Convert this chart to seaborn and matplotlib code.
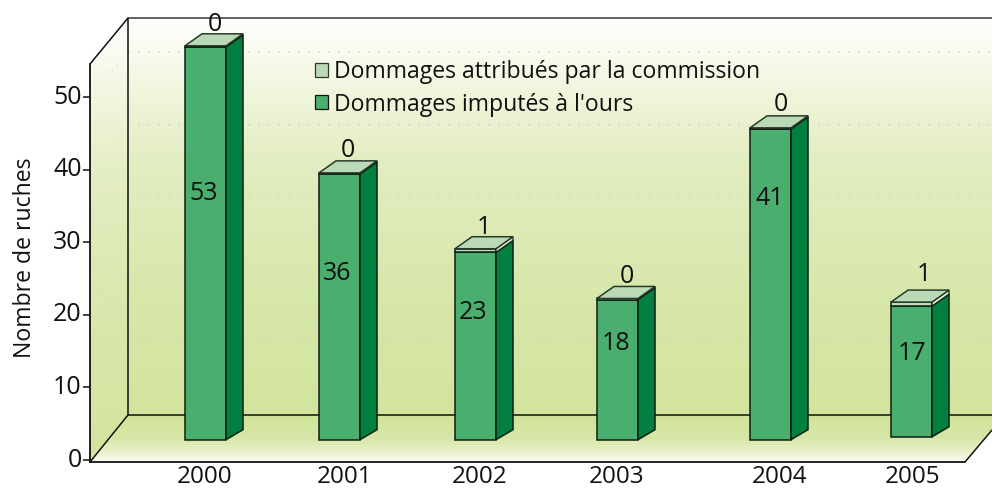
import numpy as np
import pandas as pd
import matplotlib
matplotlib.use("Agg")
import matplotlib.pyplot as plt
from matplotlib.colors import LinearSegmentedColormap
from matplotlib.patches import Patch, Polygon
import seaborn as sns

# --- data -----------------------------------------------------------------
years = ["2000", "2001", "2002", "2003", "2004", "2005"]
imputed_labels = [53, 36, 23, 18, 41, 17]
commission_labels = [0, 0, 1, 0, 0, 1]
# heights and floors of the bars as read on the y axis of the picture
imputed_drawn = [54.1, 36.6, 25.8, 19.3, 42.8, 18.0]
commission_drawn = [0.15, 0.15, 0.5, 0.15, 0.15, 0.55]
bar_floor = [2.8, 2.8, 2.8, 2.8, 2.8, 3.2]
y_ticks = [0, 10, 20, 30, 40, 50]
legend_labels = ["Dommages attribués par la commission", "Dommages imputés à l'ours"]
y_title = "Nombre de ruches"

# --- layout (pixels of the 992x490 picture) -------------------------------
bar_centres = [205.5, 339.5, 475.5, 617.5, 770.5, 911.5]
year_label_x = [205, 345, 480, 617, 780, 912]
inner_label_xy = [(204, 193.5), (337, 273.5), (473, 312.5), (616, 343.5), (770, 198.5), (912, 353.5)]
top_label_xy = [(215, 24), (348, 150), (484, 227), (627, 276), (781, 104), (924, 274)]
PX = 7.26          # pixels per y unit
Y0 = 460           # pixel row of y = 0
W, H = 992, 490
FS = 18
FS_TEXT = 16.6
GREEN, DARK, LIGHT, PALE = "#4aae6e", "#007f3e", "#bad9b7", "#e6f1dc"
EDGE = "#0b1f14"


def v(p):
    """pixel row -> y value"""
    return (Y0 - p) / PX


sns.set_style("white")
plt.rcParams["font.family"] = ["Open Sans", "DejaVu Sans"]

fig = plt.figure(figsize=(W / 100, H / 100), dpi=100, facecolor="white")
ax = fig.add_axes([90 / W, (H - 462) / H, (W - 90) / W, 462 / H])
ax.set_facecolor("none")

df = pd.DataFrame({"x": bar_centres, "imputed": imputed_drawn,
                   "commission": commission_drawn, "floor": bar_floor})
df["top"] = df["floor"] + df["imputed"]

bw = 41 / 134
common = dict(x="x", native_scale=True, width=bw, saturation=1, edgecolor=EDGE,
              linewidth=1.1, errorbar=None, ax=ax, zorder=5)
sns.barplot(data=df, y="imputed", color=GREEN, **common)
imputed_bars = list(ax.patches)
for p, b in zip(imputed_bars, df["floor"]):
    p.set_y(b)
sns.barplot(data=df, y="commission", color=LIGHT, **common)
slab_bars = list(ax.patches)[len(imputed_bars):]
for p, b in zip(slab_bars, df["top"]):
    p.set_y(b)

ax.set_xlim(90, W)
ax.set_ylim(v(462), v(0))

# --- 3D sides of the bars, built from the drawn bars ----------------------
dx, dy_top, dy_low = 17, 12 / PX, 10 / PX
for bar, slab in zip(imputed_bars, slab_bars):
    x1 = bar.get_x() + bar.get_width()
    x0 = bar.get_x()
    low, mid = bar.get_y(), bar.get_y() + bar.get_height()
    top = slab.get_y() + slab.get_height()
    ax.add_patch(Polygon([(x1, low), (x1 + dx, low + dy_low), (x1 + dx, mid + dy_top), (x1, mid)],
                         fc=DARK, ec=EDGE, lw=1.1, zorder=5))
    ax.add_patch(Polygon([(x1, mid), (x1 + dx, mid + dy_top), (x1 + dx, top + dy_top), (x1, top)],
                         fc=PALE, ec=EDGE, lw=0.9, zorder=5))
    ax.add_patch(Polygon([(x0, top), (x1, top), (x1 + dx, top + dy_top), (x0 + dx, top + dy_top)],
                         fc=LIGHT, ec="#2a3a2a", lw=1.1, zorder=5))

# --- walls and floor ------------------------------------------------------
wall_cmap = LinearSegmentedColormap.from_list(
    "wall", [(0, "#ffffff"), (0.2, "#eff5da"), (0.36, "#e3edc2"), (0.7, "#d8e7aa"), (1, "#d3e49e")])
floor_cmap = LinearSegmentedColormap.from_list(
    "floor", [(0, "#d0e399"), (0.5, "#d8e7a8"), (0.75, "#e6efc6"), (1, "#fcfdf5")])
grad = np.linspace(0, 1, 256).reshape(-1, 1)

back = Polygon([(128, v(18)), (W, v(18)), (W, v(415)), (128, v(415))], transform=ax.transData)
side = Polygon([(90, v(64)), (128, v(18)), (128, v(415)), (90, v(462))], transform=ax.transData)
floor = Polygon([(128, v(415)), (W, v(415)), (W, v(430)), (965, v(462)), (90, v(462))],
                transform=ax.transData)
for clip, cm, top_row, low_row in ((back, wall_cmap, 18, 415), (side, wall_cmap, 18, 462),
                                   (floor, floor_cmap, 415, 462)):
    im = ax.imshow(grad, cmap=cm, aspect="auto", zorder=0, interpolation="bilinear",
                   extent=(90, W, v(low_row), v(top_row)))
    im.set_clip_path(clip)
ax.set_xlim(90, W)
ax.set_ylim(v(462), v(0))

# dotted grid on the walls
wall_shift = v(415)
for t in y_ticks[1:]:
    ax.plot([128, W], [t + wall_shift] * 2, color="#d4d8c4", lw=1.2, ls=(0, (1, 5)), zorder=1)
    ax.plot([90, 128], [t, t + wall_shift], color="#e4e8d8", lw=1.2, ls=(0, (1, 4)), zorder=1)

# wall edges
line = dict(color="#111111", lw=1.1, zorder=2, solid_capstyle="butt")
ax.plot([128, W], [v(18), v(18)], color="#555555", lw=1.3, zorder=2)
ax.plot([128, 128], [v(18), v(415)], **line)
ax.plot([90, 128], [v(64), v(18)], **line)
ax.plot([90, 128], [v(462), v(415)], **line)
ax.plot([128, W], [v(415), v(415)], **line)
ax.plot([965, W], [v(462), v(430)], **line)

# --- axes -----------------------------------------------------------------
for s in ("top", "right"):
    ax.spines[s].set_visible(False)
ax.spines["left"].set_bounds(v(462), v(64))
ax.spines["bottom"].set_bounds(90, 965)
for s in ("left", "bottom"):
    ax.spines[s].set_color("#111111")
    ax.spines[s].set_linewidth(1.3)
ax.set_yticks(y_ticks)
ax.set_yticklabels([str(t) for t in y_ticks], fontsize=FS, color="#111111", va="center")
ax.tick_params(axis="y", length=5, width=1.2, color="#222222", pad=1, left=True)
ax.set_xticks(year_label_x)
ax.set_xticklabels(years, fontsize=17.5, color="#111111")
ax.tick_params(axis="x", length=0, pad=2)
ax.set_xlabel("")
ax.set_ylabel(y_title, fontsize=FS_TEXT, color="#111111")
ax.yaxis.set_label_coords((37 - 90) / (W - 90), (462 - 258) / 462)

# --- value labels ---------------------------------------------------------
for val, (x, p) in zip(imputed_labels, inner_label_xy):
    ax.text(x, v(p), str(val), ha="center", va="center", fontsize=FS, color="#111111", zorder=7)
for val, (x, p) in zip(commission_labels, top_label_xy):
    ax.text(x, v(p), str(val), ha="center", va="center", fontsize=FS, color="#111111", zorder=7)

# --- legend ---------------------------------------------------------------
handles = [Patch(fc=LIGHT, ec="#333333", lw=0.9), Patch(fc=GREEN, ec="#111111", lw=0.9)]
leg = ax.legend(handles, legend_labels, loc="upper left", frameon=False, fontsize=16.6,
                bbox_to_anchor=((315 - 90) / (W - 90), (462 - 60) / 462), borderaxespad=0,
                borderpad=0, handlelength=0.57, handleheight=0.57, handletextpad=0.26,
                labelspacing=0.37, labelcolor="#111111")
leg.set_zorder(8)

fig.savefig("out.png", dpi=100, facecolor="white")
